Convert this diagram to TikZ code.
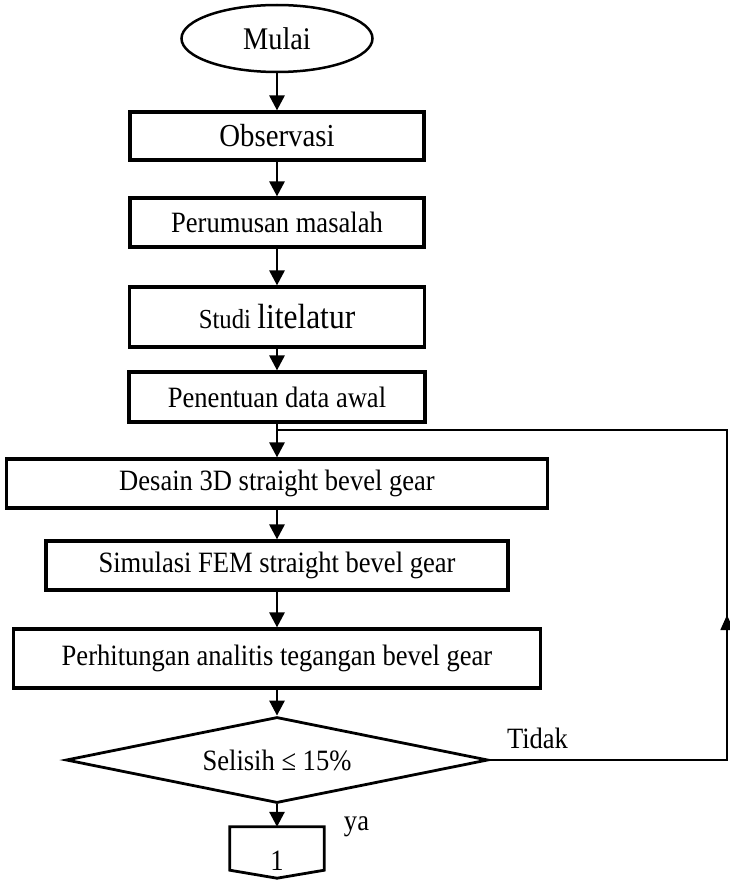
\documentclass[tikz,border=0pt]{standalone}
\usepackage{fontspec}
\setmainfont[FakeStretch=0.9]{Liberation Serif}
\usetikzlibrary{shapes.geometric,arrows.meta}

\begin{document}
\begin{tikzpicture}[x=1pt,y=-1pt,
		teks/.style={font=\fontsize{29.5}{34}\selectfont},
		proses/.style={draw,rectangle,line width=3.2pt,inner sep=0pt,minimum height=49pt,teks},
		panah/.style={-{Triangle[length=15pt,width=15pt]},line width=2.8pt},
		balik/.style={line width=1.6pt}]
		\useasboundingbox (0,0) rectangle (729,880);
		\node[draw,ellipse,line width=2.5pt,inner sep=0pt,minimum width=191pt,minimum height=67pt,font=\fontsize{31.5}{36}\selectfont] (mulai) at (277,38.5) {Mulai};
		\node[proses,minimum width=294pt,minimum height=48pt,font=\fontsize{32}{36}\selectfont] (obs) at (277,136) {Observasi};
		\node[proses,minimum width=294pt] (rumus) at (277,222.5) {Perumusan masalah};
		\node[proses,minimum width=295pt,minimum height=60pt] (studi) at (277,317) {{\fontsize{27.5}{32}\selectfont Studi }{\fontsize{35}{40}\selectfont litelatur}};
		\node[proses,minimum width=296pt,minimum height=50pt] (data) at (277,397) {Penentuan data awal};
		\node[proses,minimum width=541pt] (desain) at (277,483.5) {Desain 3D straight bevel gear};
		\node[proses,minimum width=462pt] (fem) at (277,565.5) {Simulasi FEM straight bevel gear};
		\node[proses,minimum width=527pt,minimum height=59pt] (hitung) at (277,658.5) {Perhitungan analitis tegangan bevel gear};
		\node[draw,diamond,aspect=4.9,line width=2.8pt,inner sep=0pt,minimum width=422pt,minimum height=86pt,teks] (cek) at (277,760) {Selisih ≤ 15\%};
		\node[teks,inner sep=0pt,minimum width=94pt,minimum height=43pt,text height=43pt,text depth=0pt] (satu) at (277,848.5) {1};
		\draw[line width=2.8pt] (satu.north west) -- (satu.north east) -- (satu.south east) -- ([yshift=-8pt]satu.south) -- (satu.south west) -- cycle;
		\node[teks,anchor=base] (tidak) at (537.5,748) {Tidak};
		\node[teks,anchor=base] (ya) at (356.5,830) {ya};
		% alur utama
		\path[panah] (mulai) edge (obs);
		\path[panah] (obs) edge (rumus);
		\path[panah] (rumus) edge (studi);
		\path[panah] (studi) edge (data);
		\path[panah] (data) edge (desain);
		\path[panah] (desain) edge (fem);
		\path[panah] (fem) edge (hitung);
		\path[panah] (hitung) edge (cek);
		\path[panah] (cek) edge (satu);
		% kembali jika tidak
		\coordinate (kananB) at (727,760);
		\coordinate (kananA) at (727,430);
		\coordinate (gabung) at (277,430);
		\coordinate (ujung) at (727,615);
		\draw[balik] (cek.east) -- (kananB) -- (kananA) -- (gabung);
		\draw[balik,-{Triangle[length=15pt,width=13pt]}] (kananB) -- (ujung);
	\end{tikzpicture}
\end{document}
